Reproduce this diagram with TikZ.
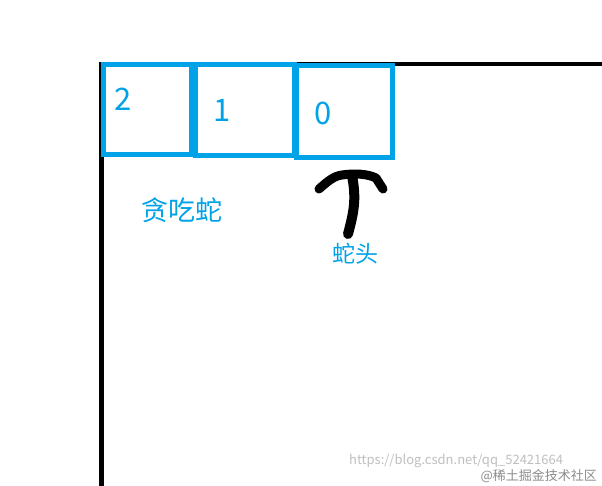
\documentclass[tikz,border=0pt]{standalone}
\usepackage{fontspec}
\setmainfont{Noto Sans CJK SC}
\definecolor{paintblue}{RGB}{0,162,232}
\begin{document}
\begin{tikzpicture}[x=1pt,y=-1pt,
   cell/.style={draw=paintblue,line width=5pt,minimum width=#1,minimum height=90pt,inner sep=0pt},
   digit/.style={text=paintblue,font=\fontsize{31}{36}\selectfont,inner sep=0pt},
   caption/.style={text=paintblue,inner sep=0pt},
   wall/.style={line width=4.5pt},
   stamp/.style={text=black!25,inner sep=0pt}]

\useasboundingbox[fill=white] (0,0) rectangle (602,486);

% walls
\coordinate (corner) at (101.5,64);
\draw[wall] (corner |- 0,486) -- (corner) -- (602,64);

% snake body
\node[cell=88pt] (box2) at (147.5,109.5) {};
\node[cell=98.5pt,minimum height=91pt] (box1) at (244.75,110.5) {};
\node[cell=96pt,minimum height=92.5pt] (box0) at (344.5,111.75) {};
\node[digit] (d2) at (123,99) {2};
\node[digit] (d1) at (222,110) {1};
\node[digit] (d0) at (323,113) {0};

\node[caption,font=\fontsize{27}{30}\selectfont] (snake) at (182,210) {贪吃蛇};
\node[caption,font=\fontsize{23}{26}\selectfont] (head) at (355,254) {蛇头};

% hand drawn arrow
\draw[line width=10pt,line cap=round,line join=round]
   (348,234) .. controls (353,215) and (357,200) .. (352,176);
\draw[line width=9pt,line cap=round,line join=round]
   (319,189) .. controls (328,181) and (334,176) .. (342,175)
   .. controls (355,173) and (368,174) .. (376,178) -- (383,189);

% watermark
\node[stamp,font=\fontsize{13}{15}\selectfont,anchor=west] (url) at (349,461) {https://blog.csdn.net/qq\_52421664};
\node[stamp,text=black!45,font=\fontsize{13}{15}\selectfont,anchor=east] (site) at (597,476) {@稀土掘金技术社区};
\end{tikzpicture}
\end{document}
